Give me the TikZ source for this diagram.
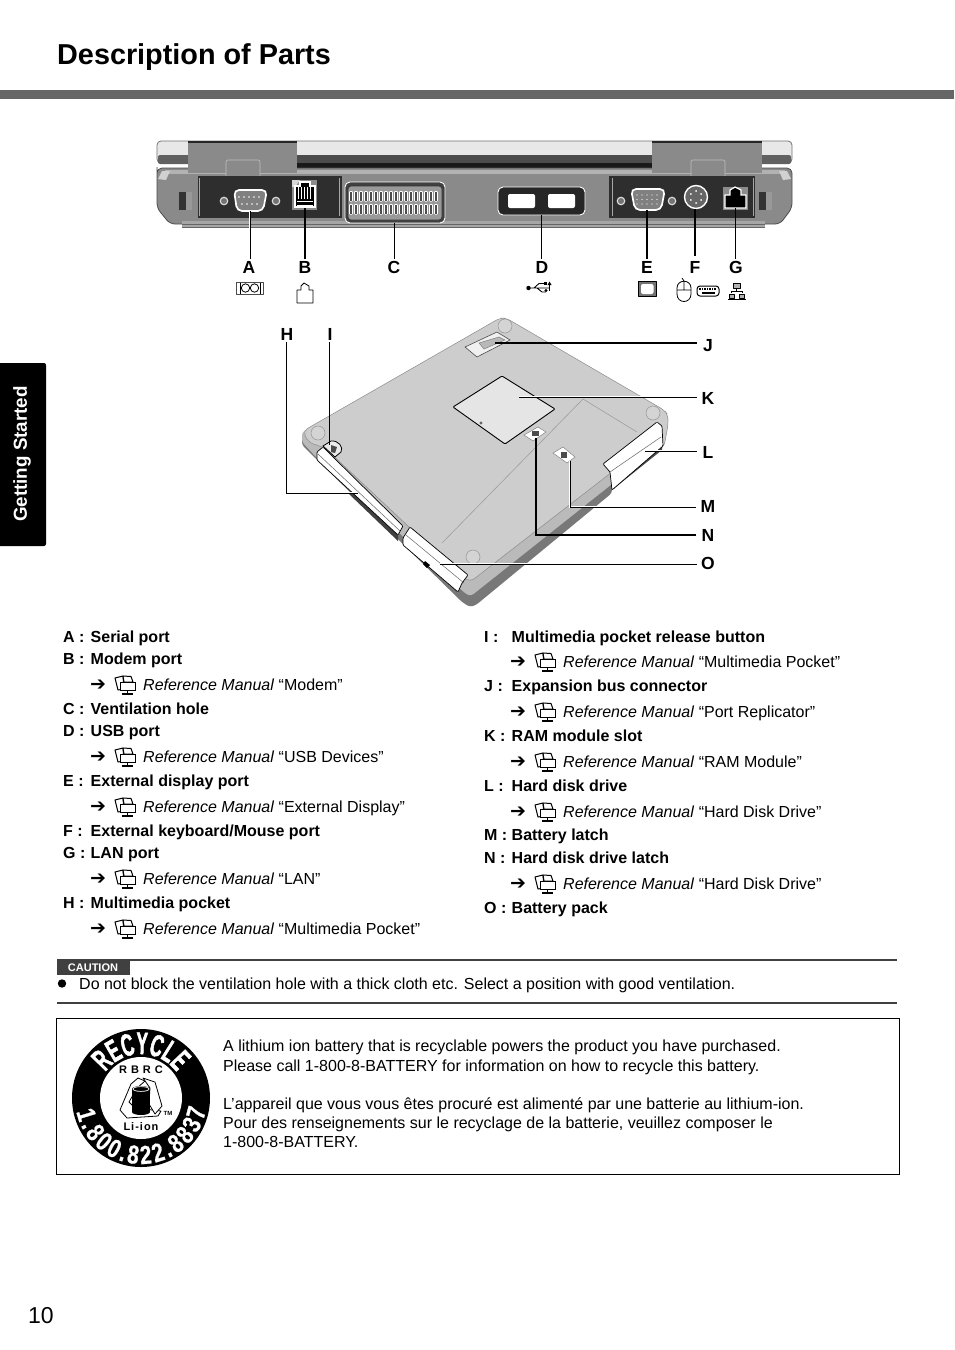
\documentclass[tikz,border=0pt]{standalone}
\usepackage{fontspec}
\setmainfont{Liberation Sans}
\newfontfamily\djv{DejaVu Sans}
\newfontfamily\condA[BoldFeatures={FakeStretch=0.56,FakeBold=1.6}]{Liberation Sans}
\newfontfamily\condB[BoldFeatures={FakeStretch=0.8,FakeBold=0.8}]{Liberation Sans}
\usetikzlibrary{calc,decorations.text}
\definecolor{bodyg}{HTML}{8A8A8A}
\definecolor{surf}{HTML}{CDCDCD}
\definecolor{bevel}{HTML}{BABABA}
\definecolor{darkg}{HTML}{787878}
\definecolor{barg}{HTML}{666666}
\tikzset{
 x=1pt,y=-1pt,
 txt/.style={anchor=base west,inner sep=0pt,font=\fontsize{16}{19}\selectfont},
 bold/.style={txt,font=\fontsize{16}{19}\selectfont\bfseries},
 letter/.style={inner sep=0pt,outer sep=2pt,font=\fontsize{17.5}{20}\selectfont\bfseries},
 thinl/.style={black,line width=.8pt},
 thickl/.style={black,line width=1.7pt},
 halo/.style={preaction={draw,white,line width=2.6pt}},
 ico/.style={line width=.8pt,black,line join=round},
 panel/.style={fill=black!82,draw=none},
 screw/.style={circle,draw=black!12,fill=black!55,line width=1.1pt,minimum size=7.5pt,inner sep=0pt},
 foot/.style={circle,draw=black!42,fill=black!17,line width=.5pt,minimum size=14pt,inner sep=0pt},
 bookicon/.pic={
  \draw[line width=1pt,black,fill=white,line join=round] (-10,-7) -- (-2,-9) -- (-1,4) -- (-7,5) -- cycle;
  \draw[line width=1pt,black,fill=white,line join=round] (-2,-9) -- (6,-8.5) -- (8,-3) -- (-1,-3) -- cycle;
  \draw[line width=1pt,black,fill=white] (-5,-3) rectangle (10,5);
  \draw[line width=1.4pt,black] (2.5,5) -- (2.5,8.5) (-3,9) -- (8,9);
 }
}
\newcommand\pl[5]{\node[bold] (k#1) at (#2,#4) {#3}; \node[bold] (n#1) at ({#2+27.5},#4) {#5};}
\newcommand\rl[4]{%
 \node[anchor=base west,inner sep=0pt,font=\djv\fontsize{19}{20}\selectfont] (a#1) at ({#2+27},{#3+0.5}) {➔};
 \pic at ({#2+62},{#3-5}) {bookicon};
 \node[txt] (r#1) at ({#2+80},#3) {\textit{Reference Manual} “#4”};}
\begin{document}
\begin{tikzpicture}
\useasboundingbox (0,0) rectangle (954,1350);
\fill[white] (0,0) rectangle (954,1350);
% header
\node[anchor=base west,inner sep=0pt,font=\fontsize{28.8}{32}\selectfont\bfseries] (title) at (57,64) {Description of Parts};
\fill[barg] (0,90) rectangle (954,99);
% side tab
\fill[black,rounded corners=2pt] (-5,363) rectangle (46,546);
\node[rotate=90,text=white,inner sep=0pt,font=\fontsize{18.8}{20}\selectfont\bfseries] (tab) at (22,454) {Getting Started};
% page number
\node[anchor=base west,inner sep=0pt,font=\fontsize{23}{25}\selectfont] (page) at (28,1323) {10};

%%%% rear view of the laptop
\draw[line width=.8pt,black!55,fill=black!9,rounded corners=4pt] (157,141) -- (792,141) -- (792,163) -- (157,163) -- cycle;
\fill[black!62,rounded corners=2pt] (158,155) rectangle (791,164);
\fill[black!70] (297,155) rectangle (652,172);
\fill[black!90] (297,163) rectangle (652,172);
\draw[line width=.8pt,black!70,fill=bodyg,rounded corners=5pt]
 (157,172) -- (157,168) -- (792,168) -- (792,208) -- (780,224) -- (170,224) -- (157,208) -- cycle;
\fill[black!30] (165,170) rectangle (785,174);
\fill[black!35] (182,221) rectangle (765,228);
\draw[black!60,line width=.6pt] (182,224) -- (765,224) (182,227) -- (765,227);
\fill[black!18] (162,171) -- (170,171) -- (166,180) -- (158,179) -- cycle;
\fill[black!18] (787,171) -- (779,171) -- (783,180) -- (791,179) -- cycle;
\fill[black!80] (179,192) rectangle (192,210); \fill[black!40] (186,192) rectangle (192,210);
\fill[black!80] (759,192) rectangle (772,210); \fill[black!40] (766,192) rectangle (772,210);
% hinges
\foreach \xa/\xb/\ta/\tb in {188/297/226/260,652/762/691/725}{
 \fill[bodyg] (\xa,141) rectangle (\xb,173);
 \fill[black!85] (\xa,141) rectangle (\xb,142.5);
 \draw[black!25,line width=.6pt,fill=bodyg,rounded corners=2pt] (\ta,176) -- (\ta,160) -- (\tb,160) -- (\tb,176);
 \fill[bodyg] (\ta,176) -- (\tb,176) -- (\tb-3,178) -- (\ta+3,178) -- cycle;
}
% port panels
\fill[panel] (198,176) rectangle (342,218);
\fill[panel] (609,176) rectangle (755,218);
\draw[black!35,line width=.5pt] (199,178) -- (199,216) (339,178) -- (339,216) (612,178) -- (612,216) (753,178) -- (753,216);
% serial port
\node[screw] (s1) at (224,201) {};
\node[screw] (s2) at (276,201) {};
\draw[white,line width=1.7pt,fill=black!50,rounded corners=5pt] (234,190) -- (267,190) -- (263,211) -- (237,211) -- cycle;
\foreach \q in {239,244,...,263} \fill[white] (\q,197) circle[radius=.9];
\foreach \q in {242,247,...,261} \fill[white] (\q,204) circle[radius=.9];
\coordinate (pA) at (250,211);
% modem port
\fill[black!45] (292,180) rectangle (317,210);
\fill[black!15] (292,180) -- (300,180) -- (295,187) -- (292,187) -- cycle;
\draw[white,line width=1.1pt,fill=black] (295,186) -- (300,186) -- (300,182) -- (310,182) -- (310,186) -- (315,186) -- (315,207) -- (295,207) -- cycle;
\foreach \q in {298.5,301.5,...,311} \draw[white,line width=.7pt] (\q,187) -- (\q,199);
\draw[white,line width=.6pt] (297,201) -- (313,201) (297,205) -- (313,205);
\coordinate (pB) at (305,208);
% vent
\draw[white,line width=.9pt,fill=black!75,rounded corners=5pt] (345,182) rectangle (445,223);
\draw[black!80,line width=.7pt,fill=black!40,rounded corners=3pt] (348,186) rectangle (442,220);
\foreach \q in {351,356,...,439} {
 \fill[white,rounded corners=1pt] (\q-1.9,191) rectangle (\q+1.9,201.5);
 \fill[black!70] (\q-.9,192) rectangle (\q+.9,200.5);
 \fill[white,rounded corners=1pt] (\q-1.9,204) rectangle (\q+1.9,214.5);
 \fill[black!70] (\q-.9,205) rectangle (\q+.9,213.5);
}
\coordinate (pC) at (394,223);
% usb
\draw[white,line width=.9pt,fill=black!85,rounded corners=5pt] (498,187) rectangle (585,215);
\fill[white,rounded corners=2pt] (508,194) rectangle (535,208);
\fill[white,rounded corners=2pt] (548,194) rectangle (575,208);
\coordinate (pD) at (541,215);
% external display
\node[screw] (s3) at (621,201) {};
\node[screw] (s4) at (672,201) {};
\draw[white,line width=1.7pt,fill=black!50,rounded corners=5pt] (631,189) -- (665,189) -- (661,210) -- (635,210) -- cycle;
\foreach \q in {637,642,...,659} {\fill[white] (\q,195) circle[radius=.7]; \fill[white] (\q,199.5) circle[radius=.7]; \fill[white] (\q,204) circle[radius=.7];}
\coordinate (pE) at (647,210);
% ps2
\node[circle,draw=white,fill=black!60,line width=1.4pt,minimum size=23pt,inner sep=0pt] (pF) at (696,197) {};
\foreach \a in {30,90,150,210,270,330} \fill[white] (696,197) ++(\a:6) circle[radius=1];
% lan
\fill[black!45] (723,187) rectangle (748,210);
\draw[white,line width=1.2pt,fill=black] (725,195) -- (730,195) -- (730,190) -- (735,187) -- (741,190) -- (741,195) -- (746,195) -- (746,208) -- (725,208) -- cycle;
\coordinate (pG) at (735,208);
% labels
\node[letter] (lA) at (249,267) {A};
\node[letter] (lB) at (305,267) {B};
\node[letter] (lC) at (394,267) {C};
\node[letter] (lD) at (542,267) {D};
\node[letter] (lE) at (647,267) {E};
\node[letter] (lF) at (695,267) {F};
\node[letter] (lG) at (736,267) {G};
\draw[thinl,halo] (pA) -- (pA |- lA.north);
\draw[thickl] (pB) -- (pB |- lB.north);
\draw[thinl] (pC) -- (pC |- lC.north);
\draw[thinl] (pD) -- (pD |- lD.north);
\draw[thickl] (pE) -- (pE |- lE.north);
\draw[line width=1.1pt] (pF.south -| 695,0) -- (695,256);
\draw[thinl,line width=1pt] (pG) -- (pG |- lG.north);
% small icons
\draw[ico,black!70] (236.5,282.5) rectangle (263.5,294);
\draw[ico] (240,282.5) -- (240,294) (260,282.5) -- (260,294);
\draw[ico] (245.5,288) circle[radius=4.2] (254.5,288) circle[radius=4.2];
\draw[ico] (297,303) -- (297,290) -- (301,290) -- (301,286) -- (304,283) -- (309,286) -- (309,290) -- (313,290) -- (313,303) -- cycle;
% usb icon
\fill[black] (528.5,288) circle[radius=2.2];
\draw[line width=.9pt] (528,288) -- (549,288) (534,288) -- (539,283.5) -- (544,283.5) (537,288) -- (542,292) -- (546,292);
\fill (544,282) rectangle (547,285);
\fill (546,290.5) circle[radius=1.6];
\fill (549.5,281.5) -- (551.5,285) -- (547.5,285) -- cycle;
\draw[line width=1pt] (549.5,284) -- (549.5,291);
% display icon
\draw[ico,line width=1pt,fill=black!55] (638.5,281.5) rectangle (656,296.5);
\fill[white,rounded corners=2pt] (641,284) rectangle (653.5,294);
% mouse icon
\draw[ico] (677,288) .. controls (677,279) and (691,279) .. (691,288) -- (691,294) .. controls (691,304) and (677,304) .. (677,294) -- cycle;
\draw[ico] (677,290) -- (691,290) (684,281) -- (684,290) (684,281) -- (682,278);
% keyboard icon
\draw[ico,line width=1pt,rounded corners=3pt] (697,286) rectangle (719,296);
\foreach \q in {700,702.5,...,716} \fill (\q-.7,288) rectangle (\q+.7,290);
\fill (702,292) rectangle (715,294);
% lan icon
\draw[ico,fill=black!30] (733,283) rectangle (740,288);
\draw[ico] (736.5,288) -- (736.5,291) (731,291) -- (742,291) (731,291) -- (731,293) (742,291) -- (742,293);
\draw[ico,fill=black!30] (729,294) rectangle (734,298) (739,294) rectangle (744,298);
\draw[ico,line width=1pt] (728,299) -- (746,299);

%%%% underside of the laptop
% dark side face
\fill[darkg,rounded corners=3pt] (302,436) -- (302,445) -- (462,602) -- (470,607) -- (476,605) -- (612,493) -- (612,470) -- (600,460) -- (400,400) -- cycle;
% bevel
\fill[bevel,rounded corners=3pt] (302,432) -- (302,442) -- (317,458) -- (466,594) -- (471,596) -- (612,484) -- (663,447) -- (668,425) -- (668,415) -- (500,330) -- cycle;
% surface
\draw[black!45,line width=.5pt,fill=surf,rounded corners=5pt]
 (303,431) -- (500,318) -- (506,318) -- (664,410) -- (668,415) -- (668,425) -- (664,447) -- (612,472) -- (470,582) -- (460,575) -- (325,448) -- (308,442) -- cycle;
\draw[black!38,line width=.6pt] (442,543) -- (583,399) -- (637,432);
% feet
\node[foot] (f1) at (318,433) {};
\node[foot] (f2) at (505,326) {};
\node[foot] (f3) at (653,413) {};
\node[foot] (f4) at (473,557) {};
% J
\draw[black!70,line width=.6pt,fill=black!6] (465,347) -- (497,332) -- (510,340) -- (477,357) -- cycle;
\draw[black!50,line width=.5pt,fill=black!28] (479,343) -- (499,337) -- (505,340) -- (484,349) -- cycle;
\coordinate (pJ) at (495,343);
% K
\draw[black,line width=.9pt,fill=black!10,rounded corners=1pt] (502,376) -- (555,409) -- (505,444) -- (453,407) -- cycle;
\fill[black!60] (481,423) circle[radius=1.6];
\coordinate (pK) at (519,397);
% N, M
\draw[black!50,line width=.5pt,fill=white] (524,435) -- (538,427) -- (546,432) -- (533,441) -- cycle;
\fill[black!70] (532,430.5) rectangle (539,436);
\coordinate (pN) at (536,438);
\draw[black!50,line width=.5pt,fill=white] (553,453) -- (563,447) -- (575,457) -- (567,463) -- cycle;
\fill[black!70] (561,452) rectangle (567,458);
\coordinate (pM) at (570,461);
% H
\fill[black!75] (349,494) -- (398,541) -- (398,533) -- (352,490) -- cycle;
\draw[black,line width=.7pt,fill=white,rounded corners=1pt] (317,460) -- (317,452) -- (323,447) -- (403,526) -- (398,535) -- cycle;
\draw[black!60,line width=.5pt] (318,454) -- (400,531);
\coordinate (pH) at (358,493);
% I
\draw[black,line width=.8pt,fill=black!8] (323,446) -- (331,441) .. controls (338,440) and (344,447) .. (341,452) -- (335,457) -- cycle;
\fill[black!70] (331,445) -- (337,447) -- (335,453) -- (331,452) -- cycle;
\coordinate (pI) at (329.5,445);
% O
\draw[black,line width=.7pt,fill=white,rounded corners=1pt] (403,545) -- (403,538) -- (410,527) -- (468,575) -- (462,583) -- (458,592) -- cycle;
\draw[black!60,line width=.5pt] (406,535) -- (464,583);
\fill[black] (425,561) -- (430,565) -- (427,568) -- (423,564) -- cycle;
\coordinate (pO) at (440,564);
% L
\fill[black!70] (612,490) -- (662,450) -- (662,441) -- (612,480) -- cycle;
\draw[black,line width=.7pt,fill=white,rounded corners=1pt] (603,464) -- (657,422) -- (662,426) -- (663,446) -- (612,490) -- (610,472) -- cycle;
\draw[black!60,line width=.5pt] (610,472) -- (661,437);
\coordinate (pL) at (645,451);
% labels
\node[letter] (lH) at (287,334) {H};
\node[letter] (lI) at (330,334) {I};
\node[letter] (lJ) at (708,346) {J};
\node[letter] (lK) at (708,398) {K};
\node[letter] (lL) at (708,452) {L};
\node[letter] (lM) at (708,506) {M};
\node[letter] (lN) at (708,535) {N};
\node[letter] (lO) at (708,563) {O};
\draw[thinl,halo] (lH.south -| 286,0) -- (286,493) -- (pH);
\draw[thickl] (lI.south -| pI) -- (pI);
\draw[thickl] (pJ) -- (697,343);
\draw[thinl,halo] (pK) -- (697,397);
\draw[thinl,halo] (pL) -- (697,451);
\draw[thinl,line width=1pt,halo] (pM) -- (570,507) -- (696,507);
\draw[thickl,halo] (pN) -- (536,535) -- (696,535);
\draw[thinl,halo] (pO) -- (697,564);

%%%% parts list, left column
\pl{A}{63}{A :}{642}{Serial port}
\pl{B}{63}{B :}{664}{Modem port}
\rl{B}{63}{690}{Modem}
\pl{C}{63}{C :}{714}{Ventilation hole}
\pl{D}{63}{D :}{736}{USB port}
\rl{D}{63}{762}{USB Devices}
\pl{E}{63}{E :}{786}{External display port}
\rl{E}{63}{812}{External Display}
\pl{F}{63}{F :}{836}{External keyboard/Mouse port}
\pl{G}{63}{G :}{858}{LAN port}
\rl{G}{63}{884}{LAN}
\pl{H}{63}{H :}{908}{Multimedia pocket}
\rl{H}{63}{934}{Multimedia Pocket}
%%%% right column
\pl{I}{484}{I :}{642}{Multimedia pocket release button}
\rl{I}{483}{667}{Multimedia Pocket}
\pl{J}{484}{J :}{691}{Expansion bus connector}
\rl{J}{483}{717}{Port Replicator}
\pl{K}{484}{K :}{741}{RAM module slot}
\rl{K}{483}{767}{RAM Module}
\pl{L}{484}{L :}{791}{Hard disk drive}
\rl{L}{483}{817}{Hard Disk Drive}
\pl{M}{484}{M :}{840}{Battery latch}
\pl{N}{484}{N :}{863}{Hard disk drive latch}
\rl{N}{483}{889}{Hard Disk Drive}
\pl{O}{484}{O :}{913}{Battery pack}

%%%% caution
\draw[black!75,line width=1.5pt] (57,960) -- (897,960);
\draw[black!75,line width=1.5pt] (57,1003) -- (897,1003);
\fill[black!75] (57,960) rectangle (130,975);
\node[text=white,inner sep=0pt,font=\fontsize{11}{12}\selectfont\bfseries] (caut) at (93,968) {CAUTION};
\fill[black] (62,983.5) circle[radius=4.2];
\node[txt] (ctext) at (79,989) {Do not block the ventilation hole with a thick cloth etc. Select a position with good ventilation.};

%%%% recycle box
\draw[black,line width=.9pt] (56.5,1018.5) rectangle (899,1174);
\node[txt] (b1) at (223,1051) {A lithium ion battery that is recyclable powers the product you have purchased.};
\node[txt] (b2) at (223,1071) {Please call 1-800-8-BATTERY for information on how to recycle this battery.};
\node[txt] (b3) at (223,1109) {L’appareil que vous vous êtes procuré est alimenté par une batterie au lithium-ion.};
\node[txt] (b4) at (223,1128) {Pour des renseignements sur le recyclage de la batterie, veuillez composer le};
\node[txt] (b5) at (223,1147) {1-800-8-BATTERY.};
\begin{scope}[shift={(141,1098)},y=1pt]
 \fill[black] (0,0) circle[radius=69];
 \fill[white] (0,0) circle[radius=41];
 \path[decorate,decoration={text along path,text align=center,
   text={|\condA\bfseries\fontsize{31}{31}\selectfont\color{white}|RECYCLE}}]
   (150:44) arc[start angle=150,end angle=30,radius=44];
 \path[decorate,decoration={text along path,text align={fit to path},
   text={|\condB\bfseries\fontsize{26}{26}\selectfont\color{white}|1.800.822.8837}}]
   (192:66) arc[start angle=192,end angle=350,radius=66];
 \node[inner sep=0pt,font=\fontsize{11}{12}\selectfont\bfseries] (rb) at (0,28) {R\hspace{4pt}B\hspace{4pt}R\hspace{4pt}C};
 \node[inner sep=0pt,font=\fontsize{11}{12}\selectfont\bfseries] (li) at (0,-29) {L\hspace{1pt}i\hspace{1pt}-\hspace{1pt}i\hspace{1pt}o\hspace{1pt}n};
 \node[inner sep=0pt,font=\fontsize{6}{7}\selectfont\bfseries] (tm) at (27,-15) {TM};
 % recycling arrows and battery
 \draw[black,line width=.8pt,fill=white,line join=round] (-21,-12) -- (-10,14) -- (-3,20) -- (4,17) -- (-4,10) -- (-12,-4) -- (-6,-10) -- (20,-13) -- (17,-18) -- (-14,-20) -- cycle;
 \draw[black,line width=.8pt,fill=white,line join=round] (2,20) -- (14,16) -- (21,-8) -- (14,-16) -- (8,-6) -- (9,10) -- cycle;
 \fill[black] (-9,-14) rectangle (9,9);
 \fill[black] (0,-14) ellipse[x radius=9,y radius=3];
 \fill[black] (0,9) ellipse[x radius=9,y radius=3];
 \draw[white,line width=.7pt] (0,9) ellipse[x radius=8,y radius=2.4];
\end{scope}
\end{tikzpicture}
\end{document}
